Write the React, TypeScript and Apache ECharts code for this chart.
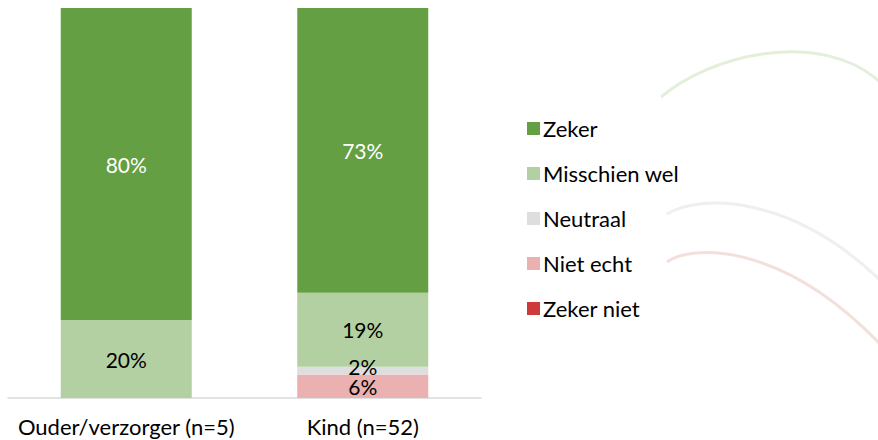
import React, { useEffect, useRef } from "react";
import * as echarts from "echarts";

const categories = ["Ouder/verzorger (n=5)", "Kind (n=52)"];
const seriesNames = ["Zeker niet", "Niet echt", "Neutraal", "Misschien wel", "Zeker"];
const zekerNiet = [0, 0];
const nietEcht = [0, 6];
const neutraal = [0, 2];
const misschienWel = [20, 19];
const zeker = [80, 73];
const colors = ["#CC3A3A", "#EBB1B0", "#DEDEDE", "#B3D0A2", "#64A043"];
const legendOrder = ["Zeker", "Misschien wel", "Neutraal", "Niet echt", "Zeker niet"];

const FONT = "Lato";

export default function App() {
  const ref = useRef<HTMLDivElement>(null);
  useEffect(() => {
    if (!ref.current) return;
    const chart = echarts.init(ref.current, null, { renderer: "svg" });
    const values = [zekerNiet, nietEcht, neutraal, misschienWel, zeker];
    const series = seriesNames.map((name, i) => ({
      name,
      type: "bar" as const,
      stack: "total",
      barWidth: 131,
      data: values[i],
      itemStyle: { color: colors[i] },
      label: {
        show: true,
        position: "inside" as const,
        offset: name === "Neutraal" ? [0, -4] : [0, 0],
        color: name === "Zeker" ? "#FFFFFF" : "#000000",
        fontFamily: FONT,
        fontSize: 21,
        formatter: (p: any) => (p.value > 0 ? p.value + "%" : ""),
      },
    }));
    chart.setOption({
      animation: false,
      textStyle: { fontFamily: FONT },
      grid: { left: 8, top: 8, width: 473, height: 390, containLabel: false },
      xAxis: {
        type: "category",
        data: categories,
        axisLine: { lineStyle: { color: "#D9D9D9", width: 1.5 } },
        axisTick: { show: false },
        axisLabel: { color: "#000000", fontFamily: FONT, fontSize: 22, margin: 17, interval: 0 },
      },
      yAxis: { type: "value", min: 0, max: 100, show: false },
      legend: {
        orient: "vertical",
        left: 522,
        top: 111,
        data: legendOrder,
        icon: "rect",
        itemWidth: 13,
        itemHeight: 13,
        itemGap: 20,
        textStyle: { color: "#000000", fontFamily: FONT, fontSize: 22, lineHeight: 25, padding: [0, 0, 0, -2] },
      },
      graphic: [
        {
          type: "bezierCurve",
          silent: true,
          z: -1,
          shape: { x1: 661, y1: 97, cpx1: 710, cpy1: 55, cpx2: 820, cpy2: 28, x2: 880, y2: 82 },
          style: { stroke: "#E4EFDA", lineWidth: 3, fill: "none" },
        },
        {
          type: "bezierCurve",
          silent: true,
          z: -1,
          shape: { x1: 667, y1: 214, cpx1: 700, cpy1: 194, cpx2: 790, cpy2: 194, x2: 880, y2: 280 },
          style: { stroke: "#EFEFEF", lineWidth: 3, fill: "none" },
        },
        {
          type: "bezierCurve",
          silent: true,
          z: -1,
          shape: { x1: 667, y1: 262, cpx1: 690, cpy1: 245, cpx2: 780, cpy2: 240, x2: 880, y2: 344 },
          style: { stroke: "#F4E0DB", lineWidth: 3, fill: "none" },
        },
      ],
      series,
    });
    return () => chart.dispose();
  }, []);
  return (
    <div
      ref={ref}
      style={{ position: "absolute", left: 0, top: 0, width: 878, height: 440 }}
    />
  );
}
